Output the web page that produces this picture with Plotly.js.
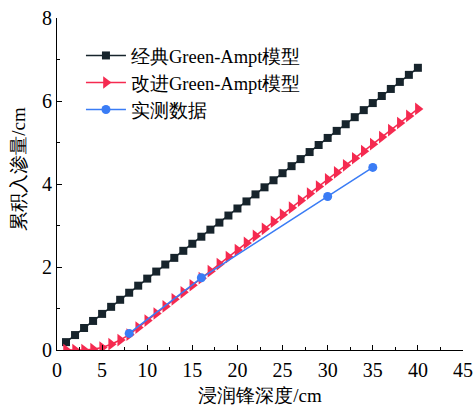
<!DOCTYPE html>
<html>
<head>
<meta charset="utf-8">
<script src="https://cdn.plot.ly/plotly-3.0.1.min.js"></script>
<style>html,body{margin:0;padding:0;background:#fff;}#chart{width:474px;height:406px;}</style>
</head>
<body>
<div id="chart"></div>
<script>
const depthModel = [1,2,3,4,5,6,7,8,9,10,11,12,13,14,15,16,17,18,19,20,21,22,23,24,25,26,27,28,29,30,31,32,33,34,35,36,37,38,39,40];
const classicGA = [0.19,0.36,0.53,0.70,0.87,1.04,1.21,1.38,1.55,1.72,1.89,2.06,2.22,2.39,2.56,2.73,2.90,3.07,3.24,3.41,3.58,3.75,3.92,4.09,4.26,4.43,4.60,4.77,4.94,5.11,5.28,5.44,5.61,5.78,5.95,6.12,6.29,6.46,6.63,6.80];
const improvedGA = [0,0,0,0.02,0.06,0.14,0.24,0.37,0.54,0.71,0.88,1.05,1.22,1.39,1.56,1.73,1.90,2.07,2.24,2.41,2.58,2.75,2.92,3.09,3.26,3.43,3.60,3.77,3.94,4.11,4.28,4.45,4.62,4.79,4.96,5.13,5.30,5.47,5.64,5.81];
const depthMeasured = [8,16,30,35];
const measured = [0.4,1.74,3.7,4.4];
const names = ['经典Green-Ampt模型','改进Green-Ampt模型','实测数据'];
const xTicks = [0,5,10,15,20,25,30,35,40,45];
const yTicks = [0,2,4,6,8];
const xTitle = '浸润锋深度/cm';
const yTitle = '累积入渗量/cm';

const FONT = 'Liberation Serif';
const traces = [
  {x: depthModel, y: classicGA, name: names[0], mode: 'lines+markers',
   line: {color: '#17242c', width: 1.5}, marker: {symbol: 'square', size: 8, color: '#17242c'}},
  {x: depthModel, y: improvedGA, name: names[1], mode: 'lines+markers',
   line: {color: '#f52a50', width: 1.5}, marker: {symbol: 'triangle-right', size: 11, color: '#f52a50'}},
  {x: depthMeasured, y: measured, name: names[2], mode: 'lines+markers',
   line: {color: '#3a7cf5', width: 1.5}, marker: {symbol: 'circle', size: 9, color: '#3a7cf5'}}
];
const layout = {
  width: 474, height: 406,
  margin: {l: 57, r: 11, t: 18, b: 56},
  paper_bgcolor: '#fff', plot_bgcolor: '#fff',
  font: {family: FONT, size: 19, color: '#000'},
  showlegend: true,
  legend: {x: 0.059, y: 0.943, xanchor: 'left', yanchor: 'top', bgcolor: 'rgba(0,0,0,0)',
           font: {family: FONT, size: 18.5}, tracegroupgap: 0, itemwidth: 40},
  xaxis: {range: [0, 45], tickvals: xTicks, showgrid: false, zeroline: false, automargin: false,
          ticklabeloverflow: 'allow',
          showline: true, linecolor: '#000', linewidth: 1, ticks: 'inside', ticklen: 5, tickcolor: '#000',
          minor: {dtick: 2.5, ticks: 'inside', ticklen: 3, tickcolor: '#000', showgrid: false},
          tickfont: {family: FONT, size: 20}, ticklabelstandoff: 2,
          title: {text: xTitle, font: {family: FONT, size: 19}, standoff: 11}},
  yaxis: {range: [0, 8], tickvals: yTicks, showgrid: false, zeroline: false, automargin: false,
          showline: true, linecolor: '#000', linewidth: 1, ticks: 'inside', ticklen: 5, tickcolor: '#000',
          minor: {dtick: 1, ticks: 'inside', ticklen: 3, tickcolor: '#000', showgrid: false},
          tickfont: {family: FONT, size: 20}},
  annotations: [{text: yTitle, xref: 'paper', yref: 'paper', x: -0.097, y: 0.545, xanchor: 'center', yanchor: 'middle',
                 textangle: -90, showarrow: false, font: {family: FONT, size: 19}}]
};
Plotly.newPlot('chart', traces, layout, {displayModeBar: false, staticPlot: true});
</script>
</body>
</html>
